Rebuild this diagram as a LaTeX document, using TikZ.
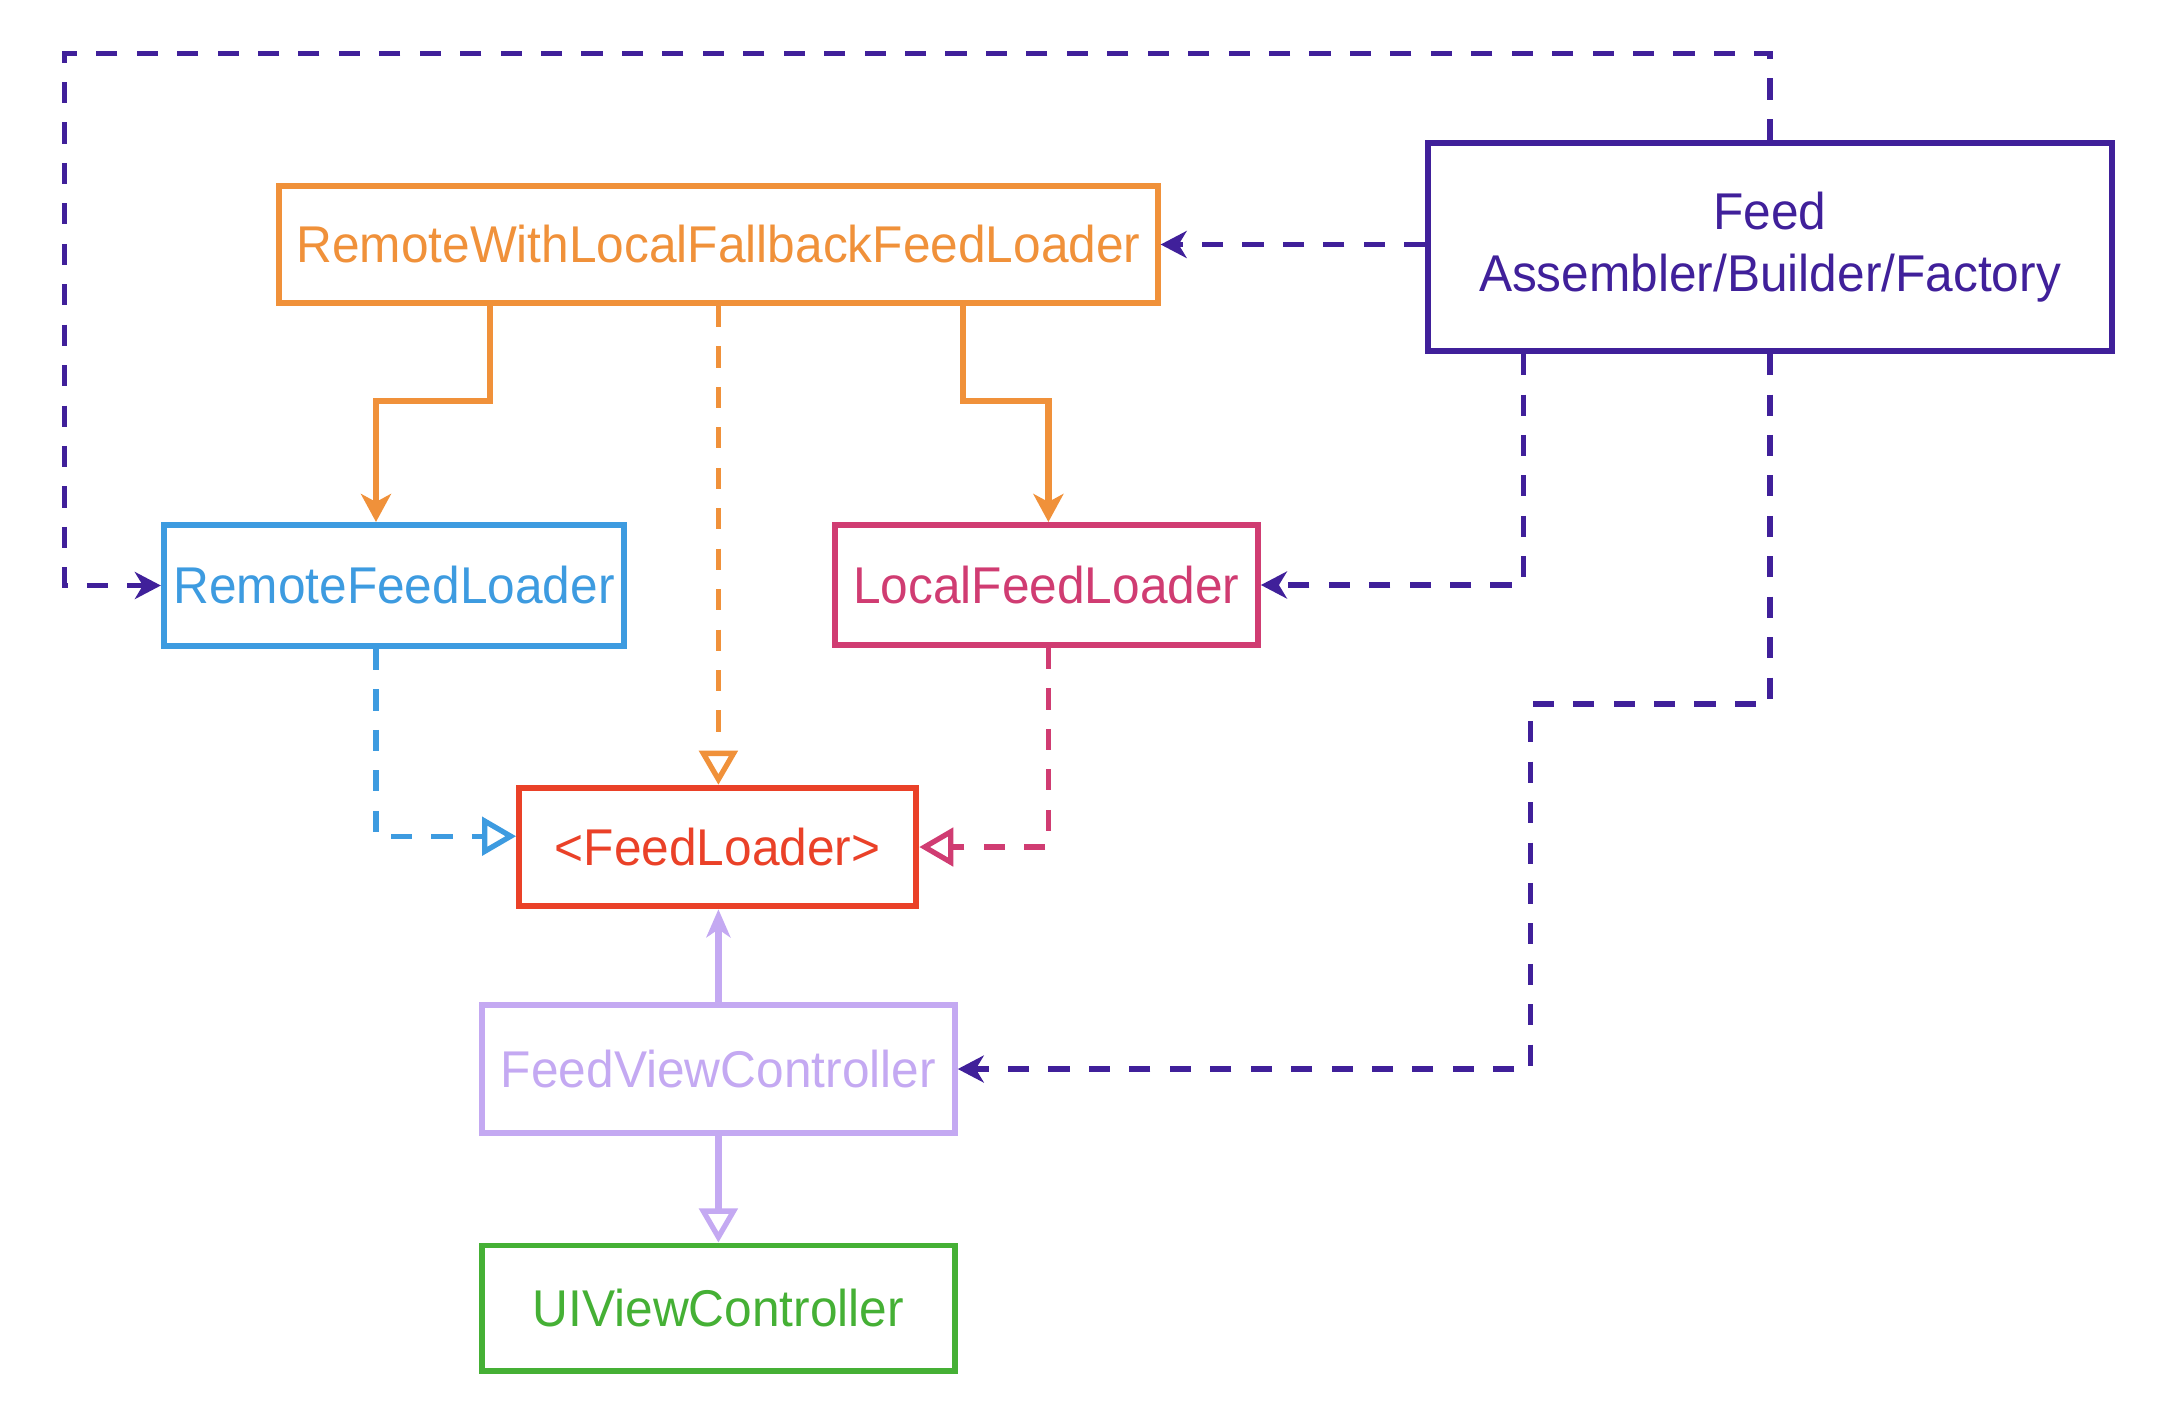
\documentclass[tikz,border=0pt]{standalone}
\usepackage{fontspec}
\setmainfont[FakeStretch=0.96]{Liberation Sans}
\usetikzlibrary{arrows.meta}

\definecolor{cOrange}{HTML}{F0913A}
\definecolor{cBlue}{HTML}{3D9BE0}
\definecolor{cPink}{HTML}{D03C72}
\definecolor{cRed}{HTML}{EA4128}
\definecolor{cLav}{HTML}{C4A9F2}
\definecolor{cGreen}{HTML}{45B035}
\definecolor{cPurple}{HTML}{40209A}

\tikzset{
  box/.style={draw, line width=1.7pt, inner sep=0pt, align=center,
    font=\fontsize{14.7}{17.5}\selectfont},
  link/.style={line width=1.8pt},
  dlink/.style={line width=1.5pt, dash pattern=on 6pt off 5.5pt},
  solidtip/.style={-{Stealth[length=0.28cm,width=0.3cm,inset=0.08cm]}},
  smalltip/.style={-{Stealth[length=0.26cm,width=0.27cm,inset=0.08cm]}},
  opentip/.style={-{Triangle[open,length=0.34cm,width=0.38cm,line width=1.5pt]}},
}

\begin{document}
\begin{tikzpicture}[x=0.01cm, y=-0.01cm]
\useasboundingbox (0,0) rectangle (2160,1426);

% classes
\node[box, draw=cOrange, text=cOrange, minimum width=8.78cm, minimum height=1.17cm]
  (fallback) at (718.4,244.5) {RemoteWithLocalFallbackFeedLoader};
\node[box, draw=cPurple, text=cPurple, minimum width=6.83cm, minimum height=2.08cm]
  (feed) at (1770,247) {Feed\\Assembler/Builder/Factory};
\node[box, draw=cBlue, text=cBlue, minimum width=4.60cm, minimum height=1.21cm]
  (remote) at (394,585.5) {RemoteFeedLoader};
\node[box, draw=cPink, text=cPink, minimum width=4.23cm, minimum height=1.20cm]
  (local) at (1046.3,585) {LocalFeedLoader};
\node[box, draw=cRed, text=cRed, minimum width=3.97cm, minimum height=1.185cm]
  (loader) at (717.7,847) {<FeedLoader>};
\node[box, draw=cLav, text=cLav, minimum width=4.725cm, minimum height=1.27cm]
  (fvc) at (718.4,1069) {FeedViewController};
\node[box, draw=cGreen, text=cGreen, minimum width=4.725cm, minimum height=1.25cm]
  (uivc) at (718.4,1308) {UIViewController};

% bend points of the long composition-root lines
\coordinate (topleft) at (64.7,53.7);
\coordinate (jog) at (1530.5,704);

% composite uses both loaders
\draw[link, cOrange, solidtip] ([xshift=-2.28cm]fallback.south) -- ++(0,95.1)
  -| ([xshift=-0.18cm]remote.north);
\draw[link, cOrange, solidtip] ([xshift=2.446cm]fallback.south) -- ++(0,95.1)
  -| ([xshift=0.021cm]local.north);

% implementations of the protocol
\draw[dlink, cOrange, opentip] (fallback.south) -- (fallback.south |- loader.north);
\draw[dlink, cBlue, opentip] ([xshift=-0.18cm]remote.south)
  |- ([yshift=0.108cm]loader.west);
\draw[dlink, cPink, opentip] ([xshift=0.021cm]local.south) |- (loader.east);

% view controller
\draw[link, cLav, -{Stealth[length=0.28cm,width=0.24cm,inset=0.08cm]}]
  (fvc.north) -- (fvc.north |- loader.south);
\draw[link, cLav, opentip] (fvc.south) -- (fvc.south |- uivc.north);

% assembler creates everything
\draw[dlink, cPurple, smalltip] (feed.west |- fallback.east) -- (fallback.east);
\draw[dlink, cPurple, smalltip] ([xshift=-2.466cm]feed.south) |- (local.east);
\draw[dlink, cPurple, smalltip] (feed.south) |- (jog) |- (fvc.east);
\draw[dlink, cPurple, smalltip] (feed.north) |- (topleft) |- (remote.west);
\end{tikzpicture}
\end{document}
